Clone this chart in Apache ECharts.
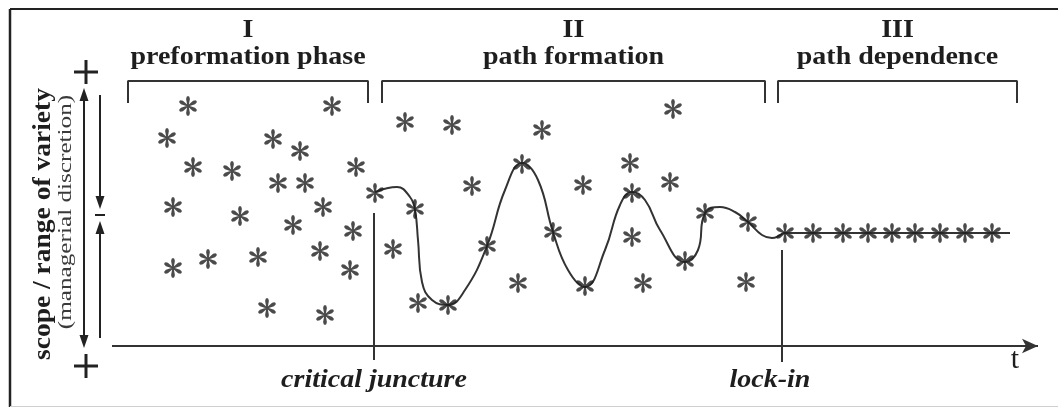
<!DOCTYPE html>
<html>
<head>
<meta charset="utf-8">
<script src="https://cdn.jsdelivr.net/npm/echarts@6/dist/echarts.min.js"></script>
<style>
  html, body { margin: 0; padding: 0; background: #fff; }
  #chart { width: 1058px; height: 408px; }
</style>
</head>
<body>
<div id="chart"></div>
<script>
// ---------- DATA (x = time, y = scope/range of variety) ----------
const phaseNumerals = ['I', 'II', 'III'];
const phaseNames = ['preformation phase', 'path formation', 'path dependence'];
const phaseStart = [16, 270, 666];
const phaseEnd = [256, 653, 905];

const eventLabels = ['critical juncture', 'lock-in'];
const eventX = [262, 670];
const eventTop = [133, 96];

const axisLabelT = 't';
const axisTitle = 'scope / range of variety';
const axisSubtitle = '(managerial discretion)';

// Phase I: scattered options
const preformX = [76, 220, 55, 161, 188, 81, 120, 244, 166, 193, 61, 128, 211, 181, 241, 61, 96, 146, 208, 238, 155, 213];
const preformY = [240, 240, 208, 207, 195, 179, 175, 179, 163, 163, 139, 130, 139, 121, 115, 78, 87, 89, 95, 76, 38, 31];

// Phase II: options lying on the path
const onPathX = [263, 303, 336, 375, 410, 441, 473, 520, 573, 593, 636];
const onPathY = [153, 137, 41, 100, 182, 114, 60, 153, 85, 133, 124];
// Phase II: options off the path
const offPathX = [293, 340, 430, 561, 360, 471, 518, 558, 281, 306, 406, 520, 531, 634];
const offPathY = [224, 221, 216, 237, 160, 161, 183, 164, 97, 43, 63, 109, 63, 64];

// Phase II: the oscillating path
const pathX = [263, 285, 298, 303, 306, 310, 320, 336, 353, 375, 393, 410, 426, 441, 456, 473, 493, 508, 520, 533, 548, 573, 586, 593, 608, 623, 636, 650, 660, 671];
const pathY = [154, 159, 149, 136, 106, 64, 46, 41, 56, 100, 156, 183, 166, 114, 76, 59, 96, 141, 154, 146, 116, 84, 96, 133, 139, 134, 124, 111, 108, 113];

// Phase III: locked-in path
const lockedX = [673, 701, 731, 756, 780, 803, 828, 853, 880];
const lockedY = [113, 113, 113, 113, 113, 113, 113, 113, 113];
const lockedLineX = [671, 898];
const lockedLineY = [113, 113];

const timeAxisX = [0, 926];

// ---------- helpers ----------
const INK = '#1e1e1e';
const FAMILY = 'Liberation Serif';

function zip(xs, ys) { return xs.map((x, i) => [x, ys[i]]); }

function asteriskPath() {
  const arm = [[-0.06, 0], [0.06, 0], [0.19, -0.7], [0.13, -0.93], [0, -1], [-0.13, -0.93], [-0.19, -0.7]];
  let d = '';
  for (let k = 0; k < 6; k++) {
    const t = k * Math.PI / 3;
    const c = Math.cos(t), s = Math.sin(t);
    arm.forEach((p, i) => {
      const x = p[0] * c - p[1] * s;
      const y = p[0] * s + p[1] * c;
      d += (i === 0 ? 'M' : 'L') + x.toFixed(3) + ' ' + y.toFixed(3) + ' ';
    });
    d += 'Z ';
  }
  return 'path://' + d;
}
const STAR = asteriskPath();

function starSeries(name, xs, ys) {
  return {
    name, type: 'scatter', data: zip(xs, ys),
    symbol: STAR, symbolSize: 20, symbolKeepAspect: true,
    itemStyle: { color: INK }, z: 5, silent: true
  };
}

const series = [];
// brackets
phaseStart.forEach((s, i) => {
  const e = phaseEnd[i];
  series.push({
    type: 'line', data: [[s, 243], [s, 265], [e, 265], [e, 243]],
    symbol: 'none', lineStyle: { color: '#333', width: 2 }, silent: true, z: 2
  });
});
// time axis with arrow + event lines
series.push({
  type: 'line', data: [], silent: true,
  markLine: {
    silent: true, animation: false,
    label: { show: false },
    lineStyle: { type: 'solid', color: '#333', width: 2 },
    symbol: ['none', 'none'],
    data: [
      [{ coord: [timeAxisX[0], 0], symbol: 'none' }, { coord: [timeAxisX[1], 0], symbol: 'arrow', symbolSize: [11, 16] }],
      [{ coord: [eventX[0], eventTop[0]] }, { coord: [eventX[0], -14] }],
      [{ coord: [eventX[1], eventTop[1]] }, { coord: [eventX[1], -16] }]
    ]
  }
});
// path
series.push({
  type: 'line', data: zip(pathX, pathY), smooth: 0.45, symbol: 'none',
  lineStyle: { color: '#333', width: 2 }, silent: true, z: 3
});
series.push({
  type: 'line', data: zip(lockedLineX, lockedLineY), symbol: 'none',
  lineStyle: { color: '#333', width: 2 }, silent: true, z: 3
});
series.push(starSeries('preformation', preformX, preformY));
series.push(starSeries('on path', onPathX, onPathY));
series.push(starSeries('off path', offPathX, offPathY));
series.push(starSeries('locked in', lockedX, lockedY));

const chart = echarts.init(document.getElementById('chart'));
chart.setOption({
  animation: false,
  backgroundColor: '#ffffff',
  grid: { left: 0, right: 0, top: 0, bottom: 0 },
  xAxis: { type: 'value', min: -112, max: 946, show: false },
  yAxis: { type: 'value', min: -62, max: 346, show: false },
  series
});

// ---------- annotations (text + left scale arrows) ----------
function txt(text, x, y, size, opts) {
  opts = opts || {};
  return {
    type: 'text', x, y, scaleX: opts.sx || 1, rotation: opts.rot || 0, silent: true, z: 20,
    style: {
      text,
      fontFamily: FAMILY,
      fontSize: size,
      fontWeight: opts.weight || 'bold',
      fontStyle: opts.italic ? 'italic' : 'normal',
      fill: opts.color || INK, textAlign: 'center', textVerticalAlign: 'middle'
    }
  };
}
function seg(x1, y1, x2, y2, w, color) {
  return { type: 'line', silent: true, z: 20, shape: { x1, y1, x2, y2 }, style: { stroke: color || '#222', lineWidth: w || 2 } };
}
function tri(points) {
  return { type: 'polygon', silent: true, z: 20, shape: { points }, style: { fill: '#222' } };
}

const px = (x, y) => chart.convertToPixel({ gridIndex: 0 }, [x, y]);
const graphic = [];
// frame
graphic.push(seg(10, 9, 1058, 9, 2, '#222'));
graphic.push(seg(10, 9, 10, 407, 2.5, '#222'));
graphic.push(seg(10, 406.5, 1058, 406.5, 1, '#cfcfcf'));

// phase headings
phaseStart.forEach((s, i) => {
  const cx = px((s + phaseEnd[i]) / 2, 0)[0];
  graphic.push(txt(phaseNumerals[i], cx, 31, 25, { sx: 1.12 }));
  graphic.push(txt(phaseNames[i], cx, 58, 25, { sx: 1.12 }));
});
// event labels
graphic.push(txt(eventLabels[0], px(eventX[0], 0)[0], 381, 25, { italic: true, sx: 1.12 }));
graphic.push(txt(eventLabels[1], px(eventX[1], 0)[0] - 12, 381, 25, { italic: true, sx: 1.12 }));
// t
graphic.push(txt(axisLabelT, 1015, 360, 30, { weight: 'normal' }));

// vertical axis titles
graphic.push(txt(axisTitle, 44, 224, 25, { rot: Math.PI / 2, sx: 1.1 }));
graphic.push(txt(axisSubtitle, 66, 212, 18, { rot: Math.PI / 2, sx: 1.4, weight: 'normal', color: '#3a3a3a' }));

// + signs (scale ends)
[[86, 72], [86, 366]].forEach(([cx, cy]) => {
  graphic.push(seg(cx - 12, cy, cx + 12, cy, 3));
  graphic.push(seg(cx, cy - 12, cx, cy + 12, 3));
});

// long double-headed arrow
graphic.push(seg(84, 98, 84, 338, 2));
graphic.push(tri([[84, 88], [79.5, 101], [88.5, 101]]));
graphic.push(tri([[84, 348], [79.5, 335], [88.5, 335]]));
// converging short arrows
graphic.push(seg(100, 95, 100, 199, 2));
graphic.push(tri([[100, 209], [95.5, 196], [104.5, 196]]));
graphic.push(seg(95, 215, 105, 215, 2));
graphic.push(seg(100, 231, 100, 338, 2));
graphic.push(tri([[100, 221], [95.5, 234], [104.5, 234]]));

chart.setOption({ graphic });
</script>
</body>
</html>
